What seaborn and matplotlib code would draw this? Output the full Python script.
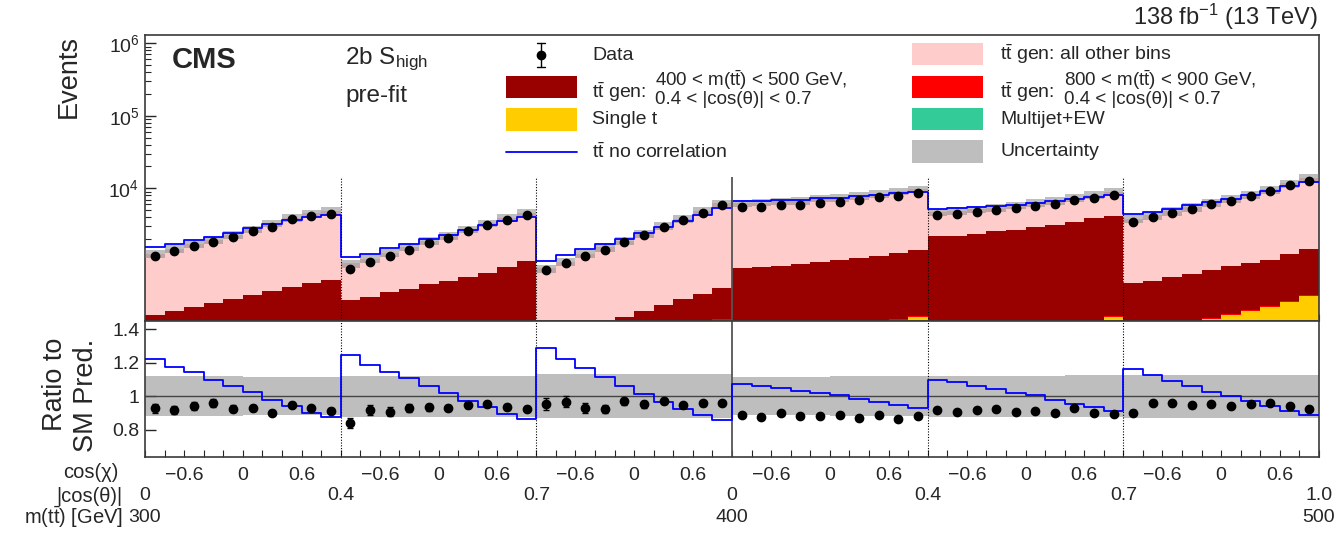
import numpy as np
import pandas as pd
import matplotlib
matplotlib.use("Agg")
import matplotlib.pyplot as plt
import seaborn as sns
from matplotlib.patches import Rectangle
from matplotlib.lines import Line2D
from matplotlib.ticker import FixedLocator, FuncFormatter, LogLocator, NullFormatter

# ---------------- data (6 blocks x 10 cos(chi) bins) ----------------
cos_chi_labels = ["\u22120.6", "0", "0.6"]
abs_cos_theta_labels = ["0", "0.4", "0.7", "0", "0.4", "0.7", "1.0"]
mtt_labels = ["300", "400", "500"]

data_counts = [
    1165, 1350, 1583, 1835, 2130, 2549, 2955, 3733, 4192, 4471,
    770, 973, 1177, 1425, 1743, 2063, 2578, 3150, 3652, 4238,
    747, 943, 1152, 1425, 1835, 2267, 2927, 3616, 4608, 5946,
    5580, 5580, 5946, 5946, 6337, 6541, 6900, 7514, 7831, 8528,
    4282, 4470, 4713, 5015, 5291, 5758, 6142, 6897, 7274, 8000,
    3430, 4060, 4614, 5184, 6013, 6750, 7826, 9276, 10990, 12740,
]
tt_other = [
    1075, 1273, 1451, 1651, 2009, 2410, 2893, 3499, 4013, 4349,
    632, 746, 925, 1126, 1395, 1695, 2130, 2619, 3076, 3593,
    694, 867, 1115, 1399, 1724, 2179, 2775, 3532, 4470, 5770,
    5480, 5549, 5736, 5847, 6212, 6357, 6847, 7278, 7785, 8275,
    2490, 2713, 2792, 2876, 3151, 3359, 3659, 3995, 4212, 4734,
    3304, 3698, 4229, 4822, 5576, 6350, 7297, 8615, 10450, 12333,
]
tt_400_500 = [
    125, 140, 167, 193, 221, 255, 300, 346, 405, 442,
    239, 259, 311, 343, 403, 451, 518, 600, 737, 894,
    24, 33, 41, 48, 64, 88, 119, 156, 196, 259,
    722, 734, 763, 793, 863, 906, 962, 1023, 1109, 1221,
    2098, 2138, 2253, 2454, 2584, 2841, 3025, 3290, 3698, 4020,
    400, 416, 466, 520, 586, 654, 723, 799, 950, 1104,
]
tt_800_900 = [
    0.5, 0.6, 0.7, 0.8, 0.9, 1.0, 1.1, 1.2, 1.3, 1.5,
    0.6, 0.7, 0.8, 0.9, 1.0, 1.1, 1.2, 1.4, 1.6, 1.8,
    0.8, 1.0, 1.2, 1.4, 1.6, 1.8, 2.0, 2.3, 2.6, 3.0,
    2, 2, 2.5, 2.5, 3, 3, 3.5, 4, 5, 6,
    2, 2, 2.5, 3, 3, 3.5, 4, 4.5, 5, 6,
    3, 3.5, 4, 4.5, 5, 6, 7, 8, 9, 10,
]
single_t = [
    40, 45, 48, 52, 55, 60, 63, 68, 72, 78,
    35, 40, 44, 48, 52, 56, 60, 65, 70, 76,
    50, 58, 66, 75, 85, 95, 105, 115, 125, 133,
    60, 65, 70, 78, 85, 95, 105, 115, 132, 145,
    55, 60, 66, 72, 80, 88, 98, 110, 125, 144,
    60, 70, 82, 95, 110, 128, 150, 175, 210, 260,
]
multijet = [
    14, 15, 15, 16, 17, 18, 19, 20, 21, 22,
    13, 14, 15, 16, 17, 18, 19, 20, 21, 22,
    15, 16, 17, 18, 19, 20, 20, 21, 21, 22,
    20, 20, 21, 21, 22, 22, 23, 23, 22, 22,
    20, 21, 21, 22, 22, 23, 23, 24, 24, 25,
    36, 38, 40, 44, 46, 50, 52, 55, 60, 66,
]
nocorr_ratio = [
    1.220, 1.175, 1.143, 1.098, 1.061, 1.022, 0.978, 0.941, 0.902, 0.875,
    1.243, 1.188, 1.145, 1.110, 1.061, 1.018, 0.971, 0.935, 0.896, 0.863,
    1.288, 1.220, 1.167, 1.114, 1.061, 1.012, 0.967, 0.925, 0.886, 0.855,
    1.071, 1.059, 1.047, 1.031, 1.018, 1.004, 0.984, 0.963, 0.945, 0.929,
    1.096, 1.082, 1.061, 1.045, 1.020, 1.004, 0.978, 0.955, 0.937, 0.912,
    1.163, 1.125, 1.092, 1.061, 1.027, 1.002, 0.969, 0.943, 0.914, 0.886,
]
rel_unc = [
    0.118, 0.118, 0.118, 0.118, 0.118, 0.115, 0.115, 0.115, 0.115, 0.115,
    0.123, 0.123, 0.123, 0.123, 0.123, 0.123, 0.123, 0.123, 0.123, 0.123,
    0.130, 0.130, 0.130, 0.130, 0.130, 0.130, 0.130, 0.130, 0.130, 0.130,
    0.113, 0.113, 0.113, 0.113, 0.113, 0.118, 0.118, 0.118, 0.118, 0.118,
    0.122, 0.122, 0.122, 0.122, 0.122, 0.122, 0.122, 0.125, 0.125, 0.125,
    0.128, 0.128, 0.128, 0.128, 0.128, 0.128, 0.128, 0.128, 0.128, 0.128,
]

# ---------------- style ----------------
sns.set_theme(style="ticks")
plt.rcParams["font.family"] = ["Liberation Sans", "DejaVu Sans"]
plt.rcParams["mathtext.fontset"] = "custom"
plt.rcParams["mathtext.rm"] = "Liberation Sans"
plt.rcParams["mathtext.it"] = "Liberation Sans:italic"
plt.rcParams["mathtext.bf"] = "Liberation Sans:bold"
plt.rcParams["mathtext.sf"] = "Liberation Sans"
plt.rcParams["axes.edgecolor"] = "#3a3a3a"

C_PINK = "#ffcccc"
C_DRED = "#990000"
C_RED = "#ff0000"
C_YEL = "#ffcc00"
C_GRN = "#33cc99"
C_UNC = "#7f7f7f"
A_UNC = 0.5
C_BLUE = "#0000ff"

W, H = 1344, 533
fig = plt.figure(figsize=(W / 100, H / 100), dpi=100)


def fx(x):
    return x / W


def fy(y):
    return 1 - y / H


L, R = 145, 1319
ax = fig.add_axes([fx(L), fy(321), (R - L) / W, (321 - 35) / H])
axr = fig.add_axes([fx(L), fy(457), (R - L) / W, (457 - 321) / H])

nb = len(data_counts)
edges = np.arange(nb + 1)
centers = edges[:-1] + 0.5

mj = np.array(multijet, float)
st = np.array(single_t, float)
r89 = np.array(tt_800_900, float)
t45 = np.array(tt_400_500, float)
oth = np.array(tt_other, float)
data = np.array(data_counts, float)

cum_mj = mj
cum_st = cum_mj + st
cum_r89 = cum_st + r89
cum_t45 = cum_r89 + t45
total = cum_t45 + oth

# stacked layers (drawn top layer first so lower ones overlay)
for vals, col in [(total, C_PINK), (cum_t45, C_DRED), (cum_r89, C_RED),
                  (cum_st, C_YEL), (cum_mj, C_GRN)]:
    df = pd.DataFrame({"bin": centers, "w": vals})
    sns.histplot(data=df, x="bin", weights="w", bins=nb, binrange=(0, nb),
                 element="step", fill=True, color=col, alpha=1, linewidth=0, ax=ax)

unc = np.array(rel_unc)
lo = np.append(total * (1 - unc), total[-1] * (1 - unc[-1]))
hi = np.append(total * (1 + unc), total[-1] * (1 + unc[-1]))
ax.fill_between(edges, lo, hi, step="post", color=C_UNC, alpha=A_UNC, lw=0, zorder=3)

ncr = np.array(nocorr_ratio)
nc_counts = total * ncr
sns.lineplot(x=edges, y=np.append(nc_counts, nc_counts[-1]), drawstyle="steps-post",
             color=C_BLUE, lw=1.3, ax=ax, estimator=None, zorder=4)

ax.errorbar(centers, data, yerr=np.sqrt(data), fmt="o", color="black", ms=6,
            elinewidth=1, capsize=2, capthick=1, zorder=5)

ax.set_yscale("log")
ax.set_xlim(0, nb)
ax.set_ylim(148, 1.3e6)
ax.set_xlabel("")
ax.set_ylabel("")
ax.yaxis.set_major_locator(FixedLocator([1e2, 1e3, 1e4, 1e5, 1e6]))
ax.yaxis.set_major_formatter(FuncFormatter(
    lambda v, p: f"$10^{{{int(round(np.log10(v)))}}}$" if v >= 1e4 else ""))
ax.yaxis.set_minor_locator(LogLocator(base=10, subs=np.arange(2, 10)))
ax.yaxis.set_minor_formatter(NullFormatter())
ax.tick_params(axis="y", which="major", direction="in", length=8, width=1, labelsize=14, pad=4)
ax.tick_params(axis="y", which="minor", direction="in", length=4, width=0.8)
ax.set_xticks(np.arange(nb + 1), minor=True)
ax.set_xticks([])
ax.tick_params(axis="x", which="minor", direction="in", length=5, width=0.8, bottom=True)
for s in ax.spines.values():
    s.set_linewidth(1.2)

# block separators
ax.vlines([10, 20, 40, 50], 148, 1.45e4, colors="black", linestyles=(0, (1, 1.5)), lw=0.8, zorder=6)
ax.vlines([30], 148, 1.45e4, colors="#555555", lw=1.3, zorder=6)

# ---------------- ratio panel ----------------
ulo = np.append(1 - unc, 1 - unc[-1])
uhi = np.append(1 + unc, 1 + unc[-1])
axr.fill_between(edges, ulo, uhi, step="post", color=C_UNC, alpha=A_UNC, lw=0, zorder=1)
axr.axhline(1.0, color="#444444", lw=1.0, zorder=2)
sns.lineplot(x=edges, y=np.append(ncr, ncr[-1]), drawstyle="steps-post",
             color=C_BLUE, lw=1.3, ax=axr, estimator=None, zorder=3)
ratio = data / total
ratio_err = np.sqrt(data) / total
axr.errorbar(centers, ratio, yerr=ratio_err, fmt="o", color="black", ms=6,
             elinewidth=1, capsize=2, capthick=1, zorder=5)
for xv in (10, 20, 40, 50):
    axr.axvline(xv, color="black", ls=(0, (1, 1.5)), lw=0.8)
axr.axvline(30, color="#555555", lw=1.3)

axr.set_xlim(0, nb)
axr.set_ylim(0.637, 1.448)
axr.set_xlabel("")
axr.set_ylabel("")
axr.yaxis.set_major_locator(FixedLocator([0.8, 1.0, 1.2, 1.4]))
axr.set_yticklabels(["0.8", "1", "1.2", "1.4"])
axr.tick_params(axis="y", which="major", direction="in", length=8, width=1, labelsize=14, pad=4)
major_pos = [b * 10 + k for b in range(6) for k in (2, 5, 8)]
axr.set_xticks(major_pos)
axr.set_xticklabels(cos_chi_labels * 6)
axr.set_xticks(np.arange(nb + 1), minor=True)
axr.tick_params(axis="x", which="both", direction="in", length=5, width=0.8,
                labelsize=14, pad=7)
for s in axr.spines.values():
    s.set_linewidth(1.2)

# ---------------- texts ----------------
TT = r"t$\bar{\mathrm{t}}$"
fig.text(fx(69), fy(77), "Events", rotation=90, ha="center", va="center", fontsize=19.5)
fig.text(fx(55), fy(384), "Ratio to", rotation=90, ha="center", va="center", fontsize=19.5)
fig.text(fx(86), fy(395), "SM Pred.", rotation=90, ha="center", va="center", fontsize=19.5)
fig.text(fx(1318), fy(17), r"138 fb$^{-1}$ (13 TeV)", ha="right", va="center", fontsize=17)
fig.text(fx(172), fy(68), "CMS", ha="left", va="baseline", fontsize=21, fontweight="bold")
fig.text(fx(345), fy(64), r"2b S$_{\mathrm{high}}$", ha="left", va="baseline", fontsize=17.5)
fig.text(fx(345), fy(102), "pre-fit", ha="left", va="baseline", fontsize=17.5)

# bottom axis annotations
fig.text(fx(119), fy(472), "cos(\u03c7)", ha="right", va="center", fontsize=14.5)
fig.text(fx(122), fy(496), "|cos(\u03b8)|", ha="right", va="center", fontsize=14.5)
fig.text(fx(123), fy(517), "m(" + TT + ") [GeV]", ha="right", va="center", fontsize=14.5)
for i, lab in enumerate(abs_cos_theta_labels):
    xpix = L + (R - L) * (i * 10) / nb
    fig.text(fx(xpix), fy(496), lab, ha="center", va="center", fontsize=14)
for i, lab in enumerate(mtt_labels):
    xpix = L + (R - L) * (i * 30) / nb
    fig.text(fx(xpix), fy(518), lab, ha="center", va="center", fontsize=14)

# ---------------- legend (manual, ROOT-like) ----------------
def box(x0, y0, x1, y1, color, alpha=1.0):
    fig.add_artist(Rectangle((fx(x0), fy(y1)), (x1 - x0) / W, (y1 - y0) / H,
                             transform=fig.transFigure, facecolor=color,
                             edgecolor="none", alpha=alpha))

LFS = 14
fig.add_artist(Line2D([fx(541), fx(541)], [fy(43), fy(67)], color="black", lw=1,
                      transform=fig.transFigure))
fig.add_artist(Line2D([fx(537), fx(545)], [fy(43), fy(43)], color="black", lw=1,
                      transform=fig.transFigure))
fig.add_artist(Line2D([fx(537), fx(545)], [fy(67), fy(67)], color="black", lw=1,
                      transform=fig.transFigure))
fig.add_artist(Line2D([fx(541)], [fy(55)], marker="o", ms=6, color="black",
                      transform=fig.transFigure))
fig.text(fx(592), fy(55), "Data", ha="left", va="center", fontsize=LFS)
box(506, 76, 577, 98, C_DRED)
fig.text(fx(592), fy(92), TT + " gen:", ha="left", va="center", fontsize=LFS)
fig.text(fx(655), fy(80), "400 < m(" + TT + ") < 500 GeV,", ha="left", va="center", fontsize=13.5)
fig.text(fx(655), fy(99), "0.4 < |cos(\u03b8)| < 0.7", ha="left", va="center", fontsize=13.5)
box(506, 108, 577, 131, C_YEL)
fig.text(fx(592), fy(119), "Single t", ha="left", va="center", fontsize=LFS)
fig.add_artist(Line2D([fx(506), fx(577)], [fy(152), fy(152)], color=C_BLUE, lw=1.3,
                      transform=fig.transFigure))
fig.text(fx(592), fy(152), TT + " no correlation", ha="left", va="center", fontsize=LFS)

box(912, 43, 983, 65, C_PINK)
fig.text(fx(1000), fy(54), TT + " gen: all other bins", ha="left", va="center", fontsize=LFS)
box(912, 76, 983, 98, C_RED)
fig.text(fx(1000), fy(92), TT + " gen:", ha="left", va="center", fontsize=LFS)
fig.text(fx(1064), fy(80), "800 < m(" + TT + ") < 900 GeV,", ha="left", va="center", fontsize=13.5)
fig.text(fx(1064), fy(99), "0.4 < |cos(\u03b8)| < 0.7", ha="left", va="center", fontsize=13.5)
box(912, 108, 983, 130, C_GRN)
fig.text(fx(1000), fy(119), "Multijet+EW", ha="left", va="center", fontsize=LFS)
box(912, 140, 983, 163, C_UNC, A_UNC)
fig.text(fx(1000), fy(152), "Uncertainty", ha="left", va="center", fontsize=LFS)

fig.savefig("out.png", dpi=100)
